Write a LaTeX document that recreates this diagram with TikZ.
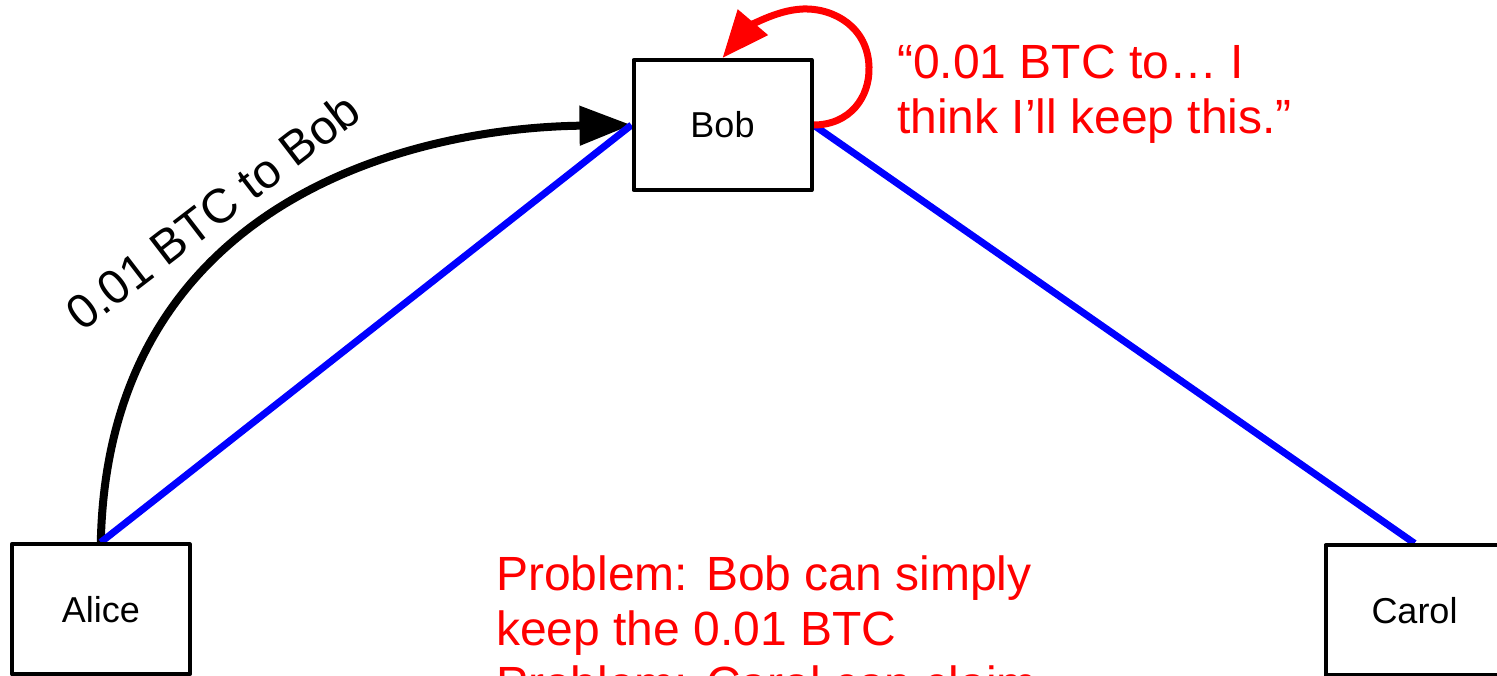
\documentclass[tikz,border=0pt]{standalone}
\usepackage{fontspec}
\setmainfont{Liberation Sans}
\usetikzlibrary{arrows.meta}
\begin{document}
\begin{tikzpicture}[x=1pt,y=-1pt,
  box/.style={draw=black,line width=4pt,line join=round,fill=white,minimum width=178pt,minimum height=130pt,inner sep=0pt,font=\fontsize{36}{43}\selectfont},
  link/.style={draw=blue,line width=7pt},
  sendarrow/.style={draw=black,line width=8pt,-{Triangle[length=52pt,width=38pt]}},
  keeparrow/.style={draw=red,line width=7pt,-{Triangle[length=47pt,width=38pt]}},
  bigtext/.style={font=\fontsize{48}{55}\selectfont,inner sep=0pt},
  redtext/.style={bigtext,text=red,align=left,anchor=base west}
]
\path[use as bounding box,clip] (0,0) rectangle (1497,676);
\fill[white] (0,0) rectangle (1497,676);

\coordinate (bobpos) at (722.5,125);
\coordinate (alicepos) at (100.8,609.3);
\coordinate (carolpos) at (1414.5,610.3);

% invisible anchors for connector ends (boxes drawn later on top)
\node[box,draw=none,fill=none] (bobref) at (bobpos) {};
\node[box,draw=none,fill=none] (aliceref) at (alicepos) {};
\node[box,draw=none,fill=none] (carolref) at (carolpos) {};

% black payment arrow
\draw[sendarrow] (aliceref.north) .. controls (108,205) and (405,128) .. (bobref.west);

% blue channels
\draw[link] (aliceref.north) -- (bobref.west);
\draw[link] (bobref.east) -- (carolref.north);

% red self loop
\draw[keeparrow] (bobref.east) .. controls (850,125) and (870,97) .. (869,67)
   .. controls (868,28) and (835,8) .. (803,9)
   .. controls (775,10) and (748,28) .. (bobref.north);

% boxes
\node[box] (bob) at (bobpos) {Bob};
\node[box] (alice) at (alicepos) {Alice};
\node[box] (carol) at (carolpos) {Carol};

% labels
\node[bigtext,anchor=base west,rotate=37.5] (paylabel) at (82,333) {0.01 BTC to Bob};
\node[redtext] (quote) at (897,134) {“0.01 BTC to… I\\think I’ll keep this.”};
\node[redtext] (problem) at (496,700) {Problem: Bob can simply\\keep the 0.01 BTC\\Problem: Carol can claim};
\end{tikzpicture}
\end{document}
